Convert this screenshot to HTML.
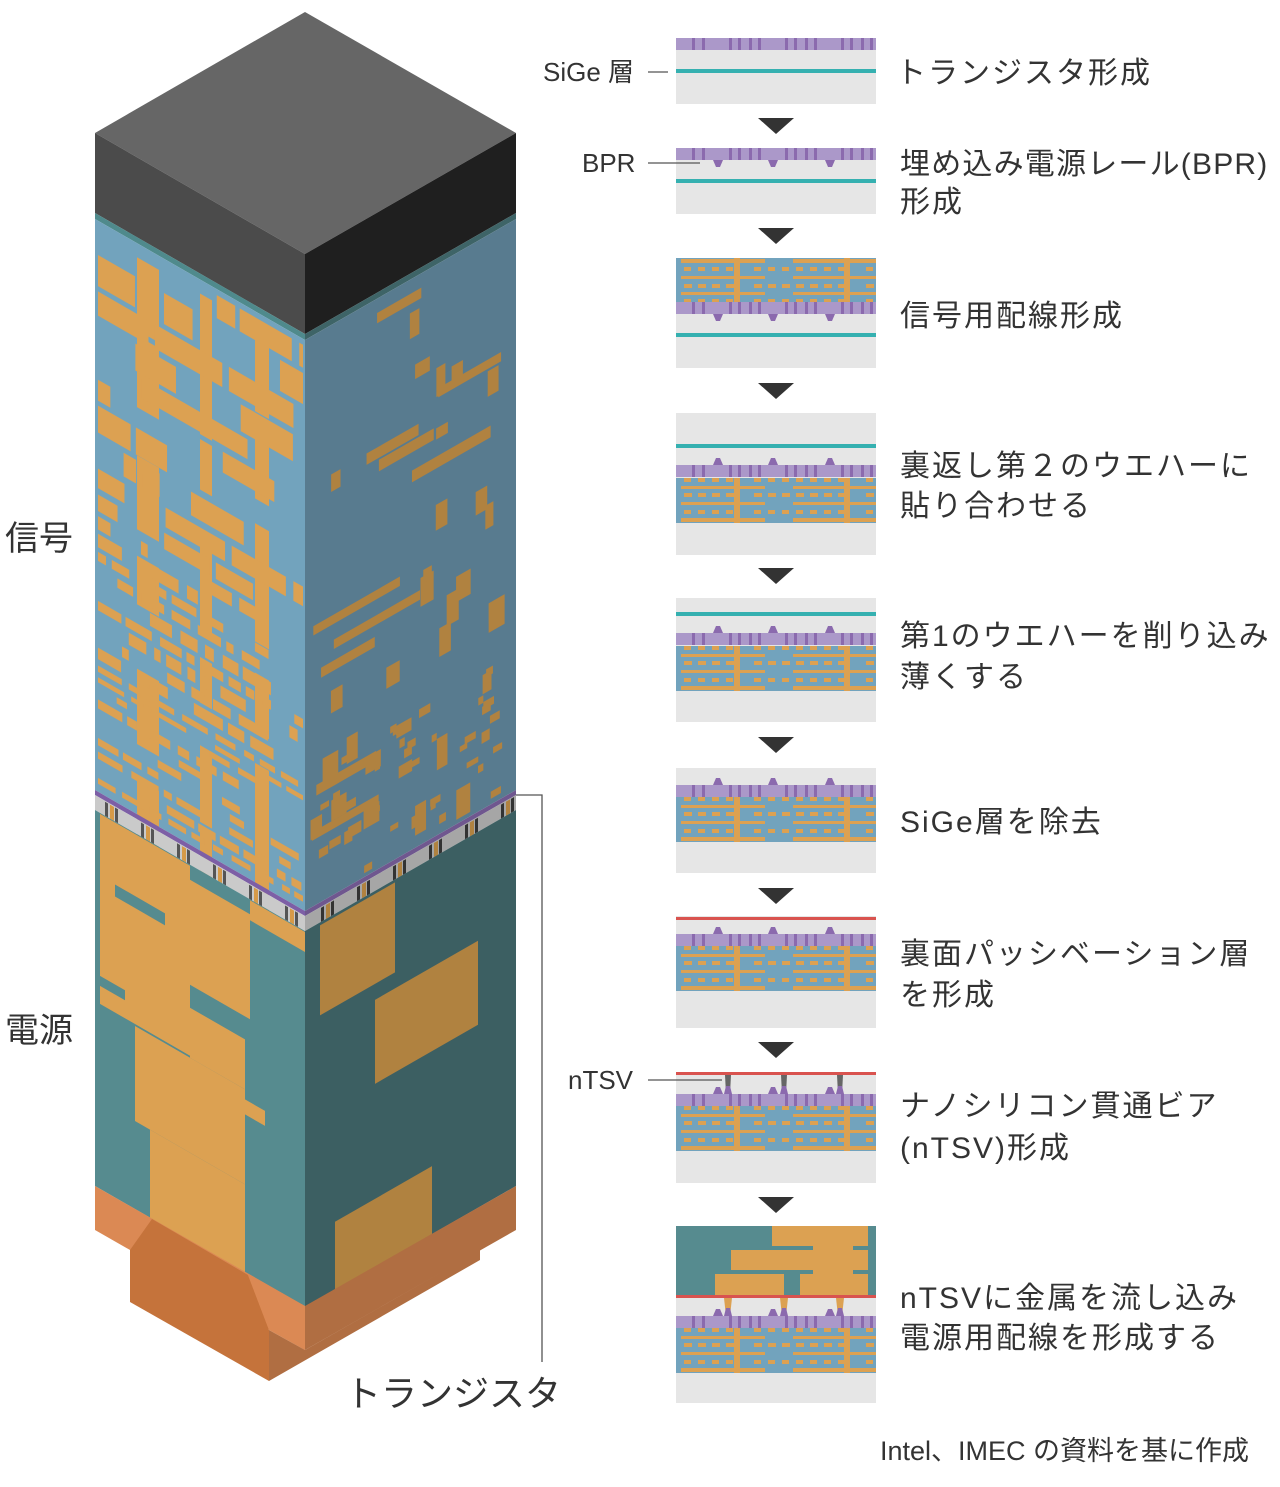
<!DOCTYPE html>
<html><head><meta charset="utf-8"><style>
html,body{margin:0;padding:0;background:#fff}
svg{display:block}
text{font-family:"Liberation Sans","Noto Sans CJK JP",sans-serif;fill:#333}
.lb{font-size:30px;letter-spacing:2px}
</style></head><body>
<svg id="s" width="1280" height="1487" viewBox="0 0 1280 1487" xmlns="http://www.w3.org/2000/svg">
<g id="tower"></g>
<g id="panels"></g>
<polyline points="516,795 542,795 542,1362" fill="none" stroke="#555" stroke-width="1.3"/>
<line x1="648" y1="72" x2="668" y2="72" stroke="#555" stroke-width="1.3"/>
<line x1="648" y1="163" x2="700" y2="163" stroke="#555" stroke-width="1.3"/>
<line x1="648" y1="1080" x2="722" y2="1080" stroke="#555" stroke-width="1.3"/>
<text x="543" y="81" style="font-size:26px">SiGe 層</text>
<text x="582" y="172" style="font-size:26px">BPR</text>
<text x="568" y="1089" style="font-size:26px">nTSV</text>
<text x="5" y="550" style="font-size:34px">信号</text>
<text x="5" y="1042" style="font-size:34px">電源</text>
<text x="345" y="1406" style="font-size:36px">トランジスタ</text>
<text class="lb" x="896" y="83">トランジスタ形成</text>
<text class="lb" x="900" y="174" style="letter-spacing:1.2px">埋め込み電源レール(BPR)</text>
<text class="lb" x="900" y="212">形成</text>
<text class="lb" x="900" y="326">信号用配線形成</text>
<text class="lb" x="900" y="476">裏返し第２のウエハーに</text>
<text class="lb" x="900" y="516">貼り合わせる</text>
<text class="lb" x="900" y="646">第1のウエハーを削り込み</text>
<text class="lb" x="900" y="687">薄くする</text>
<text class="lb" x="900" y="832">SiGe層を除去</text>
<text class="lb" x="900" y="964">裏面パッシベーション層</text>
<text class="lb" x="900" y="1005">を形成</text>
<text class="lb" x="900" y="1116">ナノシリコン貫通ビア</text>
<text class="lb" x="900" y="1158">(nTSV)形成</text>
<text class="lb" x="900" y="1308">nTSVに金属を流し込み</text>
<text class="lb" x="900" y="1348">電源用配線を形成する</text>
<text x="880" y="1460" style="font-size:27px">Intel、IMEC の資料を基に作成</text>
</svg>
<script>
(function(){
var NS='http://www.w3.org/2000/svg';
function el(p,t,a){var e=document.createElementNS(NS,t);for(var k in a)e.setAttribute(k,a[k]);p.appendChild(e);return e;}
var seed=12345;function rnd(){seed=(seed*1103515245+12345)&0x7fffffff;return seed/0x7fffffff;}
function ri(a,b){return a+rnd()*(b-a);}
var T=document.getElementById('tower');
function poly(p,pts,f){el(p,'polygon',{points:pts,fill:f});}
poly(T,'95,133 305,12 516,133 305,254','#666666');
poly(T,'95,133 305,254 305,334 95,213','#4b4b4b');
poly(T,'305,254 516,133 516,213 305,334','#1f1f1f');
var L=el(T,'g',{transform:'matrix(1,0.576,0,1,95,213)'});
var R=el(T,'g',{transform:'matrix(1,-0.5735,0,1,305,334)'});
function r(g,x,y,w,h,f){el(g,'rect',{x:x,y:y,width:w,height:h,fill:f});}
r(L,0,0,210,6,'#4f8a8c');r(R,0,0,211,6,'#3e6467');
r(L,0,6,210,571,'#72a3bd');r(R,0,6,211,571,'#587b8f');
var O='#dca152';
// spines
[[42,22],[105,12],[160,14]].forEach(function(s){
  for(var vv=20;vv<560;vv+=ri(60,120)){r(L,s[0],vv,s[1],ri(40,90),O);}
});
var v=12;
while(v<572){
  var rh=v<300?ri(16,32):(v<450?ri(8,14):ri(5,9));
  if(v+rh>574)rh=574-v;
  var u=3;
  while(u<206){
    var w=v<300?ri(12,70):ri(6,30);
    if(u+w>208)w=208-u;
    if(rnd()<0.62)r(L,u,v,w,rh,O);
    u+=w+ri(4,9);
  }
  v+=rh+ri(4,7);
}
for(var i=0;i<80;i++){
  var vv=ri(20,565),dense=vv/577;
  if(rnd()>0.2+dense*0.6)continue;
  var long=rnd()<0.2;
  var w=long?ri(40,90):ri(8,16),h=long?ri(8,12):ri(10,35);
  var uu=ri(5,205-w);
  r(R,uu,vv,w,h,'#b08240');
}
for(i=0;i<35;i++){var vv=ri(430,570);r(R,ri(10,195),vv,ri(5,12),ri(5,9),'#b08240');}
r(L,0,577,210,5,'#7d5fa6');r(R,0,577,211,5,'#6f578f');
r(L,0,582,210,15,'#cacaca');r(R,0,582,211,15,'#a6a6a6');
for(var s=10;s<205;s+=36){r(L,s,583,3,14,'#555');r(L,s+5,583,4,14,'#d69a48');r(L,s+10,583,3,14,'#555');
 r(R,s+6,583,3,14,'#333');r(R,s+11,583,4,14,'#b08240');r(R,s+16,583,3,14,'#333');}
r(L,0,597,210,376,'#568b8f');r(R,0,597,211,376,'#3c5f62');
var PO='#dca152';
r(L,5,598,90,190,PO);r(L,95,612,60,105,PO);r(L,155,598,55,20,PO);
r(L,20,660,50,12,'#568b8f');
r(L,40,790,110,95,PO);r(L,55,885,95,88,PO);r(L,95,740,55,50,PO);
r(L,5,760,25,10,'#568b8f');r(L,150,800,20,15,PO);
var RO='#b08240';
r(R,15,600,75,90,RO);r(R,70,706,103,84,RO);r(R,30,905,97,68,RO);
poly(T,'95,1186 305,1306 305,1350 95,1230','#db8954');
poly(T,'305,1306 516,1186 516,1230 305,1350','#b06e42');
poly(T,'130,1250 152,1219 248,1275 269,1330 269,1381 130,1302','#c5733b');
poly(T,'248,1275 305,1306 305,1350 269,1330','#db8954');
poly(T,'269,1330 305,1350 480,1250 480,1260 269,1381','#b06e42');

var P=document.getElementById('panels');
var X=676,W=200;
function gray(y,h){r(P,X,y,W,h,'#e6e6e6');}
var stripes=[18,28,55,64,75,84,111,120,131,140,167,176,187,196];
function purple(y,tri){
  r(P,X,y,W,12,'#ab98c9');
  stripes.forEach(function(o){r(P,X+o-2,y,3,12,'#8b6aae');});
  if(tri){[42,97,154].forEach(function(o){
    var cx=X+o;
    if(tri>0)poly(P,(cx-5)+','+(y+12)+' '+(cx+5)+','+(y+12)+' '+(cx+2)+','+(y+19)+' '+(cx-2)+','+(y+19),'#8b6aae');
    else poly(P,(cx-5)+','+y+' '+(cx+5)+','+y+' '+(cx+2)+','+(y-7)+' '+(cx-2)+','+(y-7),'#8b6aae');
  });}
}
function teal(y){r(P,X,y,W,4,'#35b0b0');}
function red(y){r(P,X,y,W,3,'#d9534f');}
function wiring(y,flip){
  r(P,X,y,W,45,'#72a3bd');
  var O='#dca152';
  function rr(x,yy,w,h){r(P,X+x,flip?(y+45-yy-h):(y+yy),w,h,O);}
  rr(5,1,84,4);rr(117,1,83,4);
  rr(5,18,84,3);rr(117,18,83,3);
  rr(5,34,84,3);rr(117,34,83,3);
  rr(58,0,6,45);rr(168,0,6,45);
  [[9,7,8],[26,8,7],[41,7,6]].forEach(function(row){
    for(var xx=8;xx<196;xx+=14){if(Math.abs(xx-61)<8||Math.abs(xx-171)<8)continue;rr(xx,row[0],row[1],4);}
  });
}
function arrow(y){poly(P,'758,'+y+' 794,'+y+' 776,'+(y+16),'#333');}
gray(38,66);purple(38,0);teal(69);
arrow(118);
gray(148,66);purple(148,1);teal(179);
arrow(228);
gray(258,110);wiring(258,false);purple(302,1);teal(333);
arrow(383);
gray(413,142);teal(444);purple(465,-1);wiring(478,true);
arrow(568);
gray(598,124);teal(612);purple(633,-1);wiring(646,true);
arrow(737);
gray(768,105);purple(785,-1);wiring(797,true);
arrow(888);
gray(916,112);red(917);purple(934,-1);wiring(946,true);
arrow(1042);
gray(1072,111);red(1072);purple(1094,-1);wiring(1106,true);
[52,108,164].forEach(function(o){var cx=X+o;poly(P,(cx-3)+',1075 '+(cx+3)+',1075 '+(cx+2)+',1094 '+(cx-2)+',1094','#666');
 poly(P,(cx-2)+',1086 '+(cx+2)+',1086 '+(cx+4)+',1094 '+(cx-4)+',1094','#8b6aae');});
arrow(1197);
gray(1226,177);r(P,X,1226,W,69,'#568b8f');
var O2='#dca152';
r(P,X+96,1226,96,20,O2);r(P,X+55,1250,137,20,O2);r(P,X+39,1274,69,21,O2);r(P,X+124,1274,68,21,O2);r(P,X+137,1244,40,32,O2);
red(1295);purple(1316,-1);wiring(1328,true);
[52,108,164].forEach(function(o){var cx=X+o;poly(P,(cx-4)+',1298 '+(cx+4)+',1298 '+(cx+2)+',1316 '+(cx-2)+',1316','#dca152');
 poly(P,(cx-2)+',1308 '+(cx+2)+',1308 '+(cx+4)+',1316 '+(cx-4)+',1316','#8b6aae');});
})();
</script>
</body></html>
